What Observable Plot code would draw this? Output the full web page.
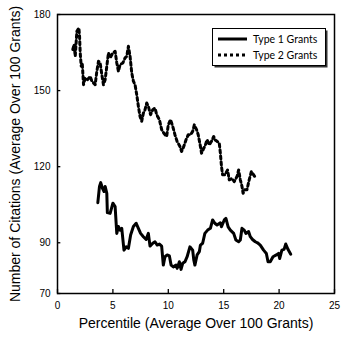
<!DOCTYPE html>
<html><head><meta charset="utf-8">
<script src="https://cdn.jsdelivr.net/npm/d3@7"></script>
<script src="https://cdn.jsdelivr.net/npm/@observablehq/plot@0.6"></script>
<style>body{margin:0;background:#fff}#chart{width:350px;height:337px}</style>
</head><body><div id="chart"></div>
<script>
const type1Percentile = [3.64,3.79,3.9,4.06,4.2,4.3,4.45,4.5,4.75,5.0,5.2,5.35,5.5,5.65,5.8,6.0,6.2,6.4,6.6,6.85,7.1,7.3,7.5,7.75,8.0,8.2,8.35,8.6,8.8,9.0,9.2,9.4,9.55,9.7,9.9,10.1,10.25,10.45,10.7,10.8,11.0,11.15,11.3,11.5,11.7,11.95,12.2,12.3,12.4,12.6,12.8,12.9,13.1,13.3,13.55,13.8,14.0,14.2,14.4,14.7,14.8,15.05,15.2,15.4,15.6,15.9,16.1,16.35,16.5,16.65,16.85,17.0,17.25,17.4,17.6,17.85,18.05,18.3,18.6,18.85,19.0,19.2,19.45,19.75,19.95,20.05,20.25,20.45,20.6,20.8,21.05];
const type1Citations = [105.8,112.2,113.7,111.5,110.2,112.2,109.5,101.9,101.6,105.6,104.3,93.7,96.4,95,95.7,87.1,88.4,87.8,93.1,96.4,97.7,95.7,93.7,92.4,91.3,93.7,88.7,89.8,90.4,89.1,89.5,88.7,81.2,84.5,85.2,84.8,81.2,80.5,81.2,79.9,82.5,79.5,81.9,82.5,84.5,88.4,87.1,83.2,81.2,85.2,86.5,89.1,89.8,93.7,95,95.7,99,97.7,97,97.9,96.3,99,99.6,96.3,95,93.7,91.1,90.4,91.1,95.7,95,93.7,94.4,92.4,91.3,90.4,90,89.1,87.1,85.8,82.5,82.5,84.5,85.2,85.8,83.8,87.1,87.4,89.5,87.4,85.5];
const type2Percentile = [1.38,1.5,1.6,1.75,1.93,1.99,2.05,2.14,2.23,2.35,2.5,2.7,2.95,3.1,3.4,3.55,3.7,3.85,4.0,4.15,4.3,4.45,4.6,4.75,5.0,5.2,5.35,5.5,5.65,5.9,6.1,6.25,6.4,6.55,6.7,6.85,7.0,7.15,7.3,7.45,7.6,7.75,7.9,8.05,8.2,8.4,8.6,8.8,8.95,9.2,9.4,9.6,9.85,10.0,10.2,10.4,10.6,10.8,11.05,11.2,11.4,11.6,11.8,12.0,12.2,12.35,12.55,12.7,12.9,13.0,13.2,13.3,13.5,13.7,13.9,14.1,14.2,14.4,14.6,14.7,14.8,14.9,15.1,15.35,15.5,15.75,15.95,16.2,16.35,16.5,16.65,16.75,16.9,17.1,17.3,17.5,17.7,17.9];
const type2Citations = [166.2,168.2,163.5,173.4,174.7,171.4,164.9,159.6,161,152.3,155,154.3,155.6,153.7,152.3,157.6,161.6,160.9,156.3,152.3,154.3,159.6,164.9,162.9,164.9,165.5,160.9,157.6,160.3,160.9,162.9,163.5,167.5,163.5,157,153.7,152.3,148.4,143.8,139.8,137.9,141.1,142.5,145.1,143.8,140.5,142.5,143.1,140.5,138.5,134.6,133.2,131.9,136.5,138.5,135.9,132.6,129.9,128,126,128,130.6,132.6,132.6,133.9,136.5,134.6,132.6,128,125.3,127.3,128,130.6,128.6,130,131.9,130.6,130,129.3,125.3,120.1,116.8,116.8,118.7,114.8,115.4,114.1,116.1,118.7,114.8,112.2,109.5,110.9,110.9,114.8,118.1,116.8,115.5];
const seriesNames = ["Type 1 Grants", "Type 2 Grants"];
const xTicks = [0, 5, 10, 15, 20, 25];
const yTicks = [70, 90, 120, 150, 180];
const xLabel = "Percentile (Average Over 100 Grants)";
const yLabel = "Number of Citations (Average Over 100 Grants)";

const type1 = type1Percentile.map((x, i) => ({x, y: type1Citations[i]}));
const type2 = type2Percentile.map((x, i) => ({x, y: type2Citations[i]}));

const chart = Plot.plot({
  width: 350, height: 337,
  marginLeft: 57, marginRight: 16, marginTop: 14, marginBottom: 44,
  style: {fontFamily: "'Liberation Sans', Arial, sans-serif", fontSize: "10px", color: "black", background: "white"},
  x: {domain: [0, 25]},
  y: {domain: [70, 180]},
  marks: [
    Plot.axisX({ticks: xTicks, tickSize: 0, tickPadding: 8, label: null}),
    Plot.axisY({ticks: yTicks, tickSize: 0, tickPadding: 7, label: null}),
    Plot.ruleX(xTicks, {y1: 70, y2: 71.6, stroke: "black", strokeWidth: 1.3}),
    Plot.ruleY(yTicks, {x1: 0, x2: 0.3, stroke: "black", strokeWidth: 1.3}),
    Plot.line(type2, {x: "x", y: "y", stroke: "black", strokeWidth: 3, strokeDasharray: "3,3"}),
    Plot.line(type1, {x: "x", y: "y", stroke: "black", strokeWidth: 3, strokeLinejoin: "round"}),
    Plot.frame({stroke: "black", strokeWidth: 1.5}),
    Plot.text([xLabel], {text: d => d, frameAnchor: "bottom", dy: 30, fontSize: 14, textAnchor: "middle", lineAnchor: "middle"}),
    Plot.text([yLabel], {text: d => d, frameAnchor: "left", dx: -42, rotate: -90, fontSize: 14, textAnchor: "middle", lineAnchor: "middle"})
  ]
});
document.getElementById("chart").appendChild(chart);

// legend
const svg = d3.select(chart);
const g = svg.append("g");
g.append("rect").attr("x", 214.5).attr("y", 30.5).attr("width", 113).attr("height", 37).attr("fill", "#333");
g.append("rect").attr("x", 212.5).attr("y", 28.5).attr("width", 113).attr("height", 37).attr("fill", "white").attr("stroke", "black").attr("stroke-width", 1);
const items = [{name: seriesNames[0], dash: null, y: 39}, {name: seriesNames[1], dash: "3,3", y: 55}];
items.forEach(it => {
  g.append("line").attr("x1", 218).attr("x2", 247).attr("y1", it.y).attr("y2", it.y)
    .attr("stroke", "black").attr("stroke-width", 3).attr("stroke-dasharray", it.dash);
  g.append("text").attr("x", 253).attr("y", it.y).attr("dy", "0.35em").attr("text-anchor", "start")
    .attr("font-family", "Lato, 'Open Sans', sans-serif").attr("font-size", 10.5).attr("fill", "black").text(it.name);
});
</script></body></html>
